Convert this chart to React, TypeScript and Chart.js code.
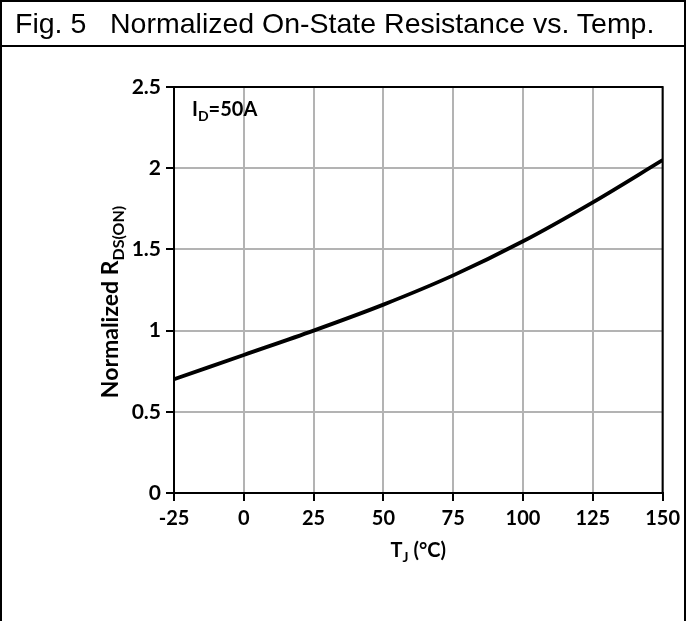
import React, { useEffect, useRef } from "react";
import { Chart, registerables } from "chart.js";

Chart.register(...registerables);

// ---- data ----
const titleText = "Fig. 5\u00a0\u00a0\u00a0Normalized On-State Resistance vs. Temp.";
const xTicks = [-25, 0, 25, 50, 75, 100, 125, 150];
const xTickLabels = ["-25", "0", "25", "50", "75", "100", "125", "150"];
const yTicks = [0, 0.5, 1, 1.5, 2, 2.5];
const yTickLabels = ["0", "0.5", "1", "1.5", "2", "2.5"];
const tempC = [-25, 0, 25, 50, 75, 100, 125, 150];
const rdsNorm = [0.7, 0.85, 1.0, 1.16, 1.34, 1.55, 1.79, 2.05];

const FONT = "Lato, 'Open Sans', sans-serif";

function drawSubText(
  ctx: CanvasRenderingContext2D,
  parts: { t: string; sub?: boolean }[],
  cx: number,
  baseY: number,
  size: number,
  subSize: number,
  align: "center" | "left"
) {
  const widths = parts.map((p) => {
    ctx.font = `bold ${p.sub ? subSize : size}px ${FONT}`;
    return ctx.measureText(p.t).width;
  });
  const total = widths.reduce((a, b) => a + b, 0);
  let x = align === "center" ? cx - total / 2 : cx;
  ctx.textAlign = "left";
  ctx.textBaseline = "alphabetic";
  parts.forEach((p, i) => {
    ctx.font = `bold ${p.sub ? subSize : size}px ${FONT}`;
    ctx.fillText(p.t, x, p.sub ? baseY + size * 0.25 : baseY);
    x += widths[i];
  });
}

const textPlugin = {
  id: "textPlugin",
  afterDraw(chart: any) {
    const { ctx, chartArea } = chart;
    const { left, right, top, bottom } = chartArea;
    ctx.save();
    // plot frame
    ctx.strokeStyle = "#000";
    ctx.lineWidth = 2;
    ctx.strokeRect(left, top, right - left, bottom - top);
    ctx.fillStyle = "#000";
    // annotation
    drawSubText(ctx, [{ t: "I" }, { t: "D", sub: true }, { t: "=50A" }], left + 18, top + 29, 20, 14, "left");
    // x title
    drawSubText(ctx, [{ t: "T" }, { t: "J", sub: true }, { t: " (°C)" }], (left + right) / 2, bottom + 64, 20, 14, "center");
    // y title
    ctx.translate(left - 56, (top + bottom) / 2 + 12);
    ctx.rotate(-Math.PI / 2);
    drawSubText(ctx, [{ t: "Normalized R" }, { t: "DS(ON)", sub: true }], 0, 0, 23, 16, "center");
    ctx.restore();
  },
};

export default function App() {
  const ref = useRef<HTMLCanvasElement>(null);
  useEffect(() => {
    document.body.style.margin = "0";
    const chart = new Chart(ref.current!, {
      type: "line",
      data: {
        datasets: [
          {
            data: tempC.map((x, i) => ({ x, y: rdsNorm[i] })),
            borderColor: "#000",
            borderWidth: 3.8,
            pointRadius: 0,
            cubicInterpolationMode: "monotone",
            fill: false,
          },
        ],
      },
      options: {
        responsive: false,
        animation: false,
        layout: { padding: { top: 87, right: 22, left: 0, bottom: 0 } },
        plugins: { legend: { display: false }, tooltip: { enabled: false } },
        scales: {
          x: {
            type: "linear",
            min: -25,
            max: 150,
            afterBuildTicks: (s: any) => {
              s.ticks = xTicks.map((v) => ({ value: v }));
            },
            afterFit: (s: any) => {
              s.height = 128;
            },
            ticks: {
              autoSkip: false,
              maxRotation: 0,
              color: "#000",
              padding: 6,
              font: { family: FONT, size: 20, weight: "bold" },
              callback: (v: any) => xTickLabels[xTicks.indexOf(Number(v))] ?? "",
            },
            grid: { color: "#b3b3b3", lineWidth: 2, tickColor: "#000", tickLength: 8, tickWidth: 2 },
            border: { color: "#000", width: 2 },
          },
          y: {
            type: "linear",
            min: 0,
            max: 2.5,
            afterBuildTicks: (s: any) => {
              s.ticks = yTicks.map((v) => ({ value: v }));
            },
            afterFit: (s: any) => {
              s.width = 174;
            },
            ticks: {
              autoSkip: false,
              color: "#000",
              padding: 5,
              font: { family: FONT, size: 21, weight: "bold" },
              callback: (v: any) => yTickLabels[yTicks.indexOf(Number(v))] ?? "",
            },
            grid: { color: "#b3b3b3", lineWidth: 2, tickColor: "#000", tickLength: 8, tickWidth: 2 },
            border: { color: "#000", width: 2 },
          },
        },
      } as any,
      plugins: [textPlugin],
    });
    return () => chart.destroy();
  }, []);

  return (
    <div style={{ position: "relative", width: 686, height: 621, background: "#fff", overflow: "hidden" }}>
      <canvas ref={ref} width={686} height={621} style={{ position: "absolute", left: 0, top: 0 }} />
      <div
        style={{
          position: "absolute",
          left: 0,
          top: 0,
          width: 686,
          height: 47,
          boxSizing: "border-box",
          borderBottom: "2px solid #000",
          fontFamily: "'Liberation Sans', Arial, sans-serif",
          fontSize: 28.5,
          lineHeight: "47px",
          paddingLeft: 15,
          whiteSpace: "nowrap",
          color: "#000",
        }}
      >
        {titleText}
      </div>
      <div
        style={{
          position: "absolute",
          left: 0,
          top: 0,
          width: 686,
          height: 621,
          boxSizing: "border-box",
          border: "2px solid #000",
          borderBottom: "none",
          pointerEvents: "none",
        }}
      />
    </div>
  );
}
